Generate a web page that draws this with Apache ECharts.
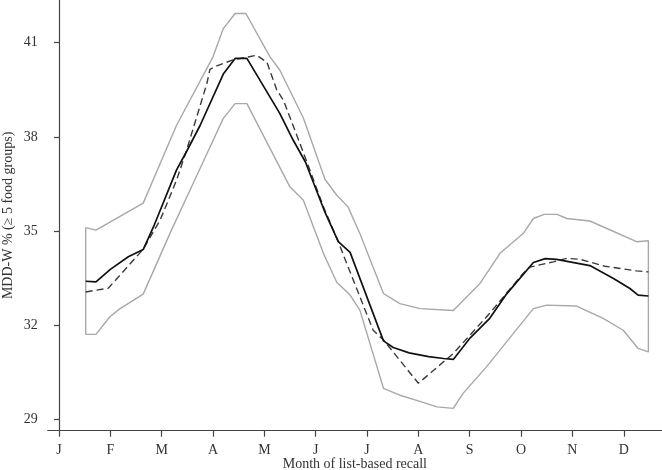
<!DOCTYPE html>
<html>
<head>
<meta charset="utf-8">
<script src="https://cdn.jsdelivr.net/npm/echarts@6/dist/echarts.min.js"></script>
<style>
    html, body { margin: 0; padding: 0; background: #fff; }
    #main { width: 662px; height: 470px; }
</style>
</head>
<body>
<div id="main"></div>
<script>
// month letters on the x axis (0 = January)
var months = ['J', 'F', 'M', 'A', 'M', 'J', 'J', 'A', 'S', 'O', 'N', 'D'];
var yTicks = [29, 32, 35, 38, 41];

// solid line: estimate (x in months from January)
var estX = [0.52, 0.72, 1.0, 1.35, 1.64, 1.84, 2.29, 2.49, 2.75, 3.20, 3.43, 3.66, 4.30, 4.56, 4.80, 5.18, 5.44, 5.67, 6.32, 6.51, 6.82, 7.20, 7.49, 7.68, 8.01, 8.39, 8.72, 9.24, 9.47, 9.69, 10.34, 10.80, 11.12, 11.28, 11.48];
var estY = [33.40, 33.38, 33.78, 34.18, 34.41, 35.13, 36.95, 37.55, 38.37, 40.00, 40.50, 40.50, 38.75, 37.90, 37.20, 35.60, 34.66, 34.32, 31.50, 31.29, 31.12, 31.00, 30.94, 30.91, 31.60, 32.22, 33.00, 34.00, 34.12, 34.10, 33.90, 33.49, 33.17, 32.96, 32.93];

// dashed line
var dashX = [0.52, 0.96, 1.30, 1.64, 1.97, 2.29, 2.49, 2.88, 2.94, 3.10, 3.39, 3.85, 4.05, 4.24, 4.37, 4.76, 5.15, 5.44, 5.54, 6.12, 6.32, 7.00, 7.68, 8.39, 9.04, 9.17, 9.63, 9.89, 10.15, 10.63, 11.25, 11.48];
var dashY = [33.06, 33.18, 33.80, 34.42, 35.35, 36.62, 37.60, 39.70, 40.15, 40.28, 40.45, 40.60, 40.38, 39.50, 39.17, 37.50, 35.77, 34.66, 34.23, 31.84, 31.53, 30.15, 31.10, 32.38, 33.65, 33.85, 34.02, 34.13, 34.10, 33.88, 33.73, 33.70];

// confidence band, upper edge
var upX = [0.52, 0.72, 1.64, 2.29, 3.00, 3.20, 3.43, 3.64, 4.11, 4.30, 4.76, 5.18, 5.41, 5.63, 5.86, 6.32, 6.64, 7.03, 7.68, 8.20, 8.59, 9.04, 9.24, 9.45, 9.70, 9.89, 10.34, 11.25, 11.48];
var upY = [35.11, 35.03, 35.89, 38.37, 40.55, 41.45, 41.93, 41.93, 40.55, 40.13, 38.60, 36.65, 36.14, 35.77, 34.92, 33.01, 32.69, 32.53, 32.47, 33.33, 34.29, 34.92, 35.40, 35.53, 35.53, 35.40, 35.32, 34.66, 34.69];

// confidence band, lower edge
var loX = [0.52, 0.72, 0.99, 1.19, 1.64, 2.19, 2.75, 3.20, 3.43, 3.66, 4.50, 4.76, 5.15, 5.41, 5.67, 5.86, 6.32, 6.64, 7.06, 7.36, 7.68, 7.87, 8.33, 9.24, 9.50, 10.08, 10.60, 10.99, 11.28, 11.48];
var loY = [31.71, 31.71, 32.27, 32.53, 32.99, 35.03, 37.00, 38.59, 39.06, 39.06, 36.40, 35.98, 34.29, 33.37, 32.96, 32.48, 29.99, 29.77, 29.56, 29.40, 29.35, 29.83, 30.68, 32.53, 32.64, 32.61, 32.22, 31.84, 31.26, 31.15];

function pairs(xs, ys) {
    var out = [];
    for (var i = 0; i < xs.length; i++) out.push([xs[i], ys[i]]);
    return out;
}

// band outline: upper left->right, lower right->left, closed
var band = pairs(upX, upY).concat(pairs(loX, loY).reverse());
band.push([upX[0], upY[0]]);

var font = '"Liberation Serif", "DejaVu Serif", serif';
var axisColor = '#444';

var myChart = echarts.init(document.getElementById('main'));
var option = {
    animation: false,
    backgroundColor: '#fff',
    grid: { left: 47.7, right: 0, top: 0, bottom: 39.3, containLabel: false, outerBoundsMode: 'none' },
    xAxis: {
        type: 'value',
        min: -0.22,
        max: 11.745,
        name: 'Month of list-based recall',
        nameLocation: 'middle',
        nameGap: 27,
        nameMoveOverlap: false,
        nameTextStyle: { fontFamily: font, fontSize: 14, color: '#333' },
        axisLine: { show: true, lineStyle: { color: axisColor, width: 1.2 } },
        axisTick: { show: true, length: 6, customValues: [0, 1, 2, 3, 4, 5, 6, 7, 8, 9, 10, 11], lineStyle: { color: axisColor, width: 1.2 } },
        axisLabel: {
            customValues: [0, 1, 2, 3, 4, 5, 6, 7, 8, 9, 10, 11],
            formatter: function (v) { return months[Math.round(v)]; },
            fontFamily: font, fontSize: 14, color: '#333', margin: 13
        },
        splitLine: { show: false }
    },
    yAxis: {
        type: 'value',
        min: 28.64,
        max: 42.36,
        name: 'MDD-W % (≥ 5 food groups)',
        nameLocation: 'middle',
        nameRotate: 90,
        nameGap: 32,
        nameMoveOverlap: false,
        nameTextStyle: { fontFamily: font, fontSize: 14, color: '#333' },
        axisLine: { show: true, lineStyle: { color: axisColor, width: 1.2 } },
        axisTick: { show: true, length: 5, customValues: yTicks, lineStyle: { color: axisColor, width: 1.2 } },
        axisLabel: {
            customValues: yTicks,
            fontFamily: font, fontSize: 14, color: '#333', margin: 10
        },
        splitLine: { show: false }
    },
    series: [
        {
            type: 'line',
            data: band,
            symbol: 'none',
            lineStyle: { color: '#a8a8a8', width: 1.4 },
            z: 1
        },
        {
            type: 'line',
            data: pairs(dashX, dashY),
            symbol: 'none',
            lineStyle: { color: '#3a3a3a', width: 1.4, type: [7, 4] },
            z: 2
        },
        {
            type: 'line',
            data: pairs(estX, estY),
            symbol: 'none',
            lineStyle: { color: '#111', width: 1.7 },
            z: 3
        }
    ]
};
myChart.setOption(option);
</script>
</body>
</html>
